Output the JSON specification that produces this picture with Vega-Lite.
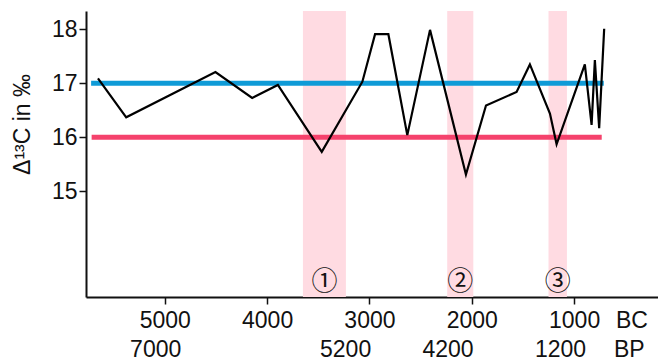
{
  "$schema": "https://vega.github.io/schema/vega-lite/v6.json",
  "width": 572,
  "height": 286,
  "autosize": {"type": "none"},
  "padding": {"left": 86, "top": 11, "right": 0, "bottom": 63},
  "background": "white",
  "config": {
    "view": {"stroke": null},
    "font": "Liberation Sans",
    "axis": {
      "grid": false,
      "labelFont": "Liberation Sans",
      "labelFontSize": 23,
      "labelColor": "#111111",
      "domainColor": "#111111",
      "domainWidth": 2,
      "tickColor": "#111111",
      "tickWidth": 1.5,
      "tickSize": 7,
      "labelFlush": false,
      "labelOverlap": false,
      "labelBound": false
    }
  },
  "datasets": {
    "bands": [
      {"start": 3650, "end": 3230, "mid": 3440, "label": "①"},
      {"start": 2240, "end": 1985, "mid": 2112, "label": "②"},
      {"start": 1250, "end": 1070, "mid": 1160, "label": "③"}
    ],
    "refs": [
      {"from": 5720, "to": 710, "level": 17, "reference": "upper"},
      {"from": 5715, "to": 730, "level": 16, "reference": "lower"}
    ],
    "series": [
      {"year": 5653, "d13c": 17.09},
      {"year": 5377, "d13c": 16.37},
      {"year": 4505, "d13c": 17.21},
      {"year": 4146, "d13c": 16.73},
      {"year": 3895, "d13c": 16.97},
      {"year": 3466, "d13c": 15.73},
      {"year": 3069, "d13c": 17.03},
      {"year": 2945, "d13c": 17.91},
      {"year": 2815, "d13c": 17.91},
      {"year": 2630, "d13c": 16.04},
      {"year": 2408, "d13c": 17.99},
      {"year": 2057, "d13c": 15.31},
      {"year": 1861, "d13c": 16.59},
      {"year": 1562, "d13c": 16.84},
      {"year": 1432, "d13c": 17.35},
      {"year": 1236, "d13c": 16.44},
      {"year": 1171, "d13c": 15.87},
      {"year": 895, "d13c": 17.35},
      {"year": 829, "d13c": 16.23},
      {"year": 797, "d13c": 17.43},
      {"year": 755, "d13c": 16.17},
      {"year": 706, "d13c": 18.01}
    ]
  },
  "layer": [
    {
      "data": {"name": "bands"},
      "mark": {"type": "rect", "color": "#ffdbe2"},
      "encoding": {
        "x": {"field": "start", "type": "quantitative", "axis": null,
              "scale": {"domain": [180, 5770], "reverse": true, "nice": false, "zero": false}},
        "x2": {"field": "end"}
      }
    },
    {
      "data": {"name": "refs"},
      "mark": {"type": "rule", "strokeWidth": 5, "strokeCap": "butt"},
      "encoding": {
        "x": {"field": "from", "type": "quantitative",
              "axis": {"orient": "bottom", "values": [440], "labelExpr": "'BC'", "domain": false,
                       "tickOpacity": 0, "labelPadding": 23, "labelBaseline": "alphabetic", "title": null}},
        "x2": {"field": "to"},
        "y": {"field": "level", "type": "quantitative",
              "scale": {"domain": [13.04, 18.34], "nice": false, "zero": false},
              "axis": {"values": [15, 16, 17, 18], "labelPadding": 2, "labelBaseline": "middle",
                       "title": "Δ¹³C in ‰", "titleFont": "Liberation Sans", "titleFontSize": 23,
                       "titleFontWeight": "normal", "titleColor": "#111111", "titleAngle": -90,
                       "titleAlign": "center", "titleBaseline": "middle", "titleX": -64, "titleY": 113}},
        "color": {"field": "reference", "type": "nominal", "legend": null,
                  "scale": {"domain": ["upper", "lower"], "range": ["#0f9bd7", "#f5426c"]}}
      }
    },
    {
      "data": {"name": "series"},
      "mark": {"type": "line", "color": "#000000", "strokeWidth": 2.2, "strokeJoin": "miter"},
      "encoding": {
        "x": {"field": "year", "type": "quantitative",
              "axis": {"orient": "bottom", "values": [5000, 4000, 3000, 2000, 1000], "format": "d",
                       "labelPadding": 23, "labelBaseline": "alphabetic", "title": null}},
        "y": {"field": "d13c", "type": "quantitative",
              "axis": {"values": [15, 16, 17, 18], "labelPadding": 2, "labelBaseline": "middle",
                       "title": "Δ¹³C in ‰", "titleFont": "Liberation Sans", "titleFontSize": 23,
                       "titleFontWeight": "normal", "titleColor": "#111111", "titleAngle": -90,
                       "titleAlign": "center", "titleBaseline": "middle", "titleX": -64, "titleY": 113}}
      }
    },
    {
      "data": {"name": "bands"},
      "mark": {"type": "text", "font": "Noto Sans CJK JP", "fontSize": 26, "color": "#111111", "baseline": "middle"},
      "encoding": {
        "x": {"field": "mid", "type": "quantitative",
              "axis": {"orient": "bottom", "values": [5094, 3238, 2237, 1137, 465],
                       "labelExpr": "datum.value == 5094 ? '7000' : datum.value == 3238 ? '5200' : datum.value == 2237 ? '4200' : datum.value == 1137 ? '1200' : 'BP'",
                       "domain": false, "tickOpacity": 0, "labelPadding": 52, "labelBaseline": "alphabetic", "title": null}},
        "y": {"datum": 13.32, "type": "quantitative",
              "axis": {"values": [15, 16, 17, 18], "labelPadding": 2, "labelBaseline": "middle",
                       "title": "Δ¹³C in ‰", "titleFont": "Liberation Sans", "titleFontSize": 23,
                       "titleFontWeight": "normal", "titleColor": "#111111", "titleAngle": -90,
                       "titleAlign": "center", "titleBaseline": "middle", "titleX": -64, "titleY": 113}},
        "text": {"field": "label"}
      }
    }
  ],
  "resolve": {"axis": {"x": "independent"}}
}
